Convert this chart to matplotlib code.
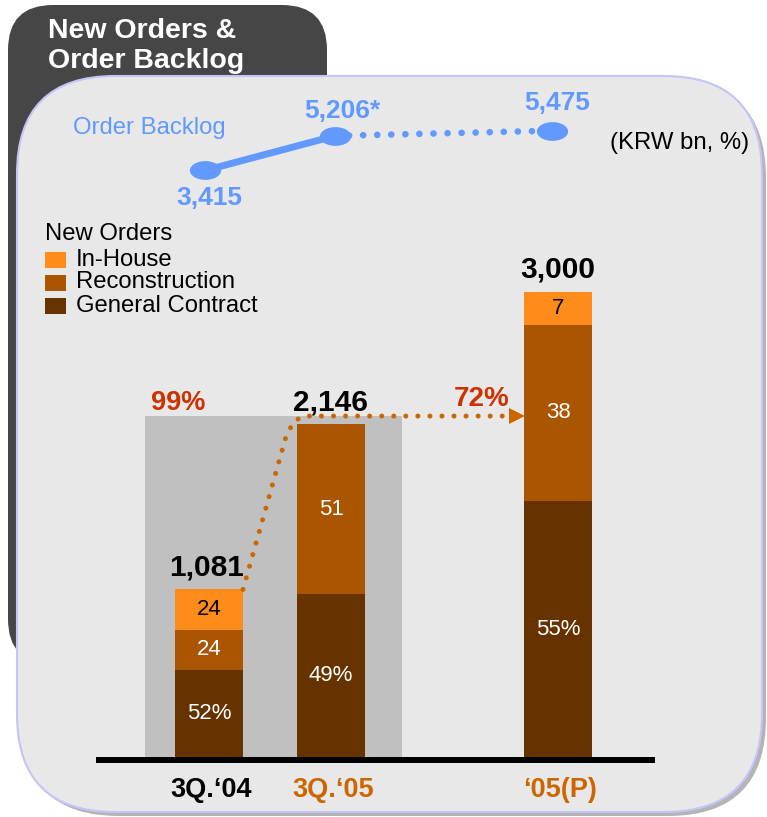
import numpy as np
import matplotlib
matplotlib.use("Agg")
import matplotlib.pyplot as plt
from matplotlib.patches import FancyBboxPatch, Rectangle
from matplotlib.path import Path

plt.rcParams['font.family'] = ['Liberation Sans', 'DejaVu Sans']

# ---------------- data ----------------
categories = ["3Q.\u201804", "3Q.\u201805", "\u201805(P)"]
category_colors = ["#000000", "#CC6600", "#CC6600"]
totals = [1081, 2146, 3000]
series_names = ["In-House", "Reconstruction", "General Contract"]
general_pct = [52, 49, 55]
recon_pct = [24, 51, 38]
inhouse_pct = [24, 0, 7]
growth_labels = ["99%", "72%"]
backlog = [3415, 5206, 5475]
backlog_labels = ["3,415", "5,206*", "5,475"]

# ---------------- style / layout ----------------
W, H = 767, 817
C_IN, C_RE, C_GC = "#FF8C1A", "#AA5500", "#663300"
C_BLUE = "#6199FF"
C_ORANGE = "#CC6600"
C_RED = "#CC3300"
bar_x = [209, 331, 558]
bar_w = 68
backlog_x = [205, 335, 552]

fig = plt.figure(figsize=(W / 100, H / 100), dpi=100)
fig.patch.set_facecolor("white")

# background / decoration axes in pixel units
bg = fig.add_axes([0, 0, 1, 1])
bg.set_xlim(0, W)
bg.set_ylim(H, 0)
bg.axis("off")


def rbox(x0, y0, x1, y1, r, **kw):
    return FancyBboxPatch((x0 + r, y0 + r), (x1 - x0) - 2 * r, (y1 - y0) - 2 * r,
                          boxstyle=f"round,pad={r},rounding_size={r}", **kw)


# dark tab
bg.add_patch(rbox(8, 5, 327, 664, 45, facecolor="#464646", edgecolor="none", zorder=1))
# panel shadow + panel
bg.add_patch(rbox(21, 80, 766, 816, 98, facecolor="#B4B4B4", edgecolor="none", zorder=2))
bg.add_patch(rbox(17, 76, 762, 812, 98, facecolor="#E8E8E8", edgecolor="#C4C4F8",
                  linewidth=1.5, zorder=3))

# title
bg.text(48, 38, "New Orders &", color="white", fontsize=20.5, fontweight="bold",
        va="baseline", ha="left", zorder=5)
bg.text(48, 68, "Order Backlog", color="white", fontsize=20.5, fontweight="bold",
        va="baseline", ha="left", zorder=5)

bg.text(149, 128, "Order Backlog", color=C_BLUE, fontsize=17.2, ha="center", va="center", zorder=5)
bg.text(680, 143, "(KRW bn, %)", color="black", fontsize=17.2, ha="center", va="center", zorder=5)

# legend
bg.text(45, 234, "New Orders", color="black", fontsize=17.2, ha="left", va="center", zorder=5)
leg_cols = [C_IN, C_RE, C_GC]
for i, (name, col) in enumerate(zip(series_names, leg_cols)):
    yc = 259.5 + 23 * i
    bg.add_patch(Rectangle((45, yc - 8), 21, 16, facecolor=col, edgecolor="none", zorder=5))
    bg.text(76, yc, name, color="black", fontsize=17.2, ha="left", va="center", zorder=5)

# baseline
bg.plot([96, 655], [760, 760], color="black", lw=4.3, solid_capstyle="butt", zorder=6)

# category labels
for x, lab, col in zip(bar_x, categories, category_colors):
    bg.text(x + 2, 790, lab, color=col, fontsize=19.5, fontweight="bold",
            ha="center", va="center", zorder=6)

# ---------------- bars ----------------
ax = fig.add_axes([0, (H - 757) / H, 1, 465 / H])
ax.set_xlim(0, W)
ax.set_ylim(0, 3000)
ax.axis("off")
ax.patch.set_alpha(0)

t = np.array(totals, float)
gc = t * np.array(general_pct) / 100
re = t * np.array(recon_pct) / 100
ih = t - gc - re
ih = np.where(np.array(inhouse_pct) == 0, 0, ih)
re = t - gc - ih

# gray backdrop behind the first two periods
gray_top = totals[1] * 1.025
ax.bar((145 + 402) / 2, gray_top, width=257, color="#C0C0C0", zorder=1)

ax.bar(bar_x, gc, width=bar_w, color=C_GC, zorder=3)
ax.bar(bar_x, re, bottom=gc, width=bar_w, color=C_RE, zorder=3)
ax.bar(bar_x, ih, bottom=gc + re, width=bar_w, color=C_IN, zorder=3)

for i, x in enumerate(bar_x):
    ax.text(x, gc[i] / 2, f"{general_pct[i]}%", color="white", fontsize=16,
            ha="center", va="center", zorder=4)
    ax.text(x, gc[i] + re[i] / 2, f"{recon_pct[i]}", color="white", fontsize=16,
            ha="center", va="center", zorder=4)
    if inhouse_pct[i]:
        ax.text(x, gc[i] + re[i] + ih[i] / 2, f"{inhouse_pct[i]}", color="black",
                fontsize=16, ha="center", va="center", zorder=4)
    ax.annotate(f"{totals[i]:,}", (x, totals[i]), xytext=(-2 if i == 0 else 0, 6),
                textcoords="offset points", ha="center", va="bottom",
                fontsize=21.5, fontweight="bold", color="black", zorder=5)

# growth connector (dotted orange with arrow)
cx = [bar_x[0] + bar_w / 2, 286, 294, 304, 512]
cy = [totals[0], gray_top * 0.94, gray_top * 0.985, gray_top, gray_top]
ax.plot(cx, cy, color=C_ORANGE, lw=3.6, linestyle=(0, (0.01, 2.4)),
        dash_capstyle="round", zorder=5)
ax.plot([517], [gray_top], marker=">", markersize=12, color=C_ORANGE,
        markeredgewidth=0, zorder=5)

ax.text(178, gray_top, growth_labels[0], color=C_RED, fontsize=19.5, fontweight="bold",
        ha="center", va="bottom", zorder=5)
ax.text(482, gray_top + 25, growth_labels[1], color=C_RED, fontsize=20, fontweight="bold",
        ha="center", va="bottom", zorder=5)

# ---------------- order backlog line ----------------
axb = fig.add_axes([0, 0, 1, 1])
axb.set_xlim(0, W)
axb.set_ylim(-30067, 12243)
axb.axis("off")
axb.patch.set_alpha(0)

circ = Path.unit_circle()
ell = Path(circ.vertices * np.array([1.0, 0.6]), circ.codes)

axb.plot(backlog_x[:2], backlog[:2], color=C_BLUE, lw=5, solid_capstyle="round", zorder=6)
axb.plot(backlog_x[1:], backlog[1:], color=C_BLUE, lw=4.8, linestyle=(0, (0.01, 2.1)),
         dash_capstyle="round", zorder=6)
axb.plot(backlog_x, backlog, linestyle="none", marker=ell, markersize=22.5,
         color=C_BLUE, markeredgewidth=0, zorder=7)

offsets = [(3, -20), (5, 9), (4, 11)]
vas = ["center", "bottom", "bottom"]
for x, v, lab, off, va in zip(backlog_x, backlog, backlog_labels, offsets, vas):
    axb.annotate(lab, (x, v), xytext=off, textcoords="offset points", ha="center", va=va,
                 fontsize=19, fontweight="bold", color=C_BLUE, zorder=8)

fig.savefig("out.png", dpi=100)
